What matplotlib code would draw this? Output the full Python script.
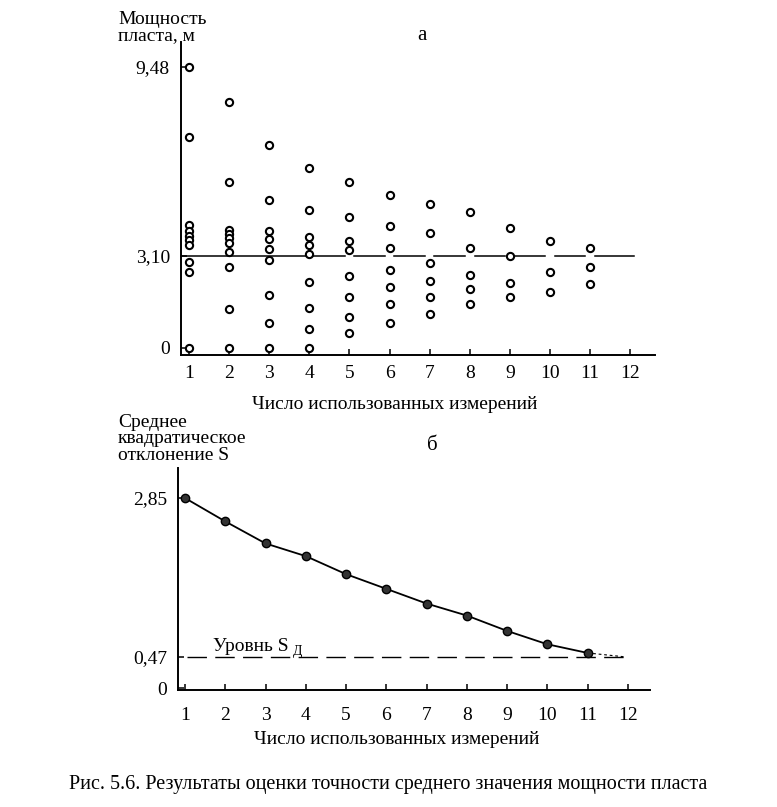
import matplotlib
matplotlib.use("Agg")
import matplotlib.pyplot as plt
import numpy as np

plt.rcParams["font.family"] = ["Liberation Serif", "DejaVu Serif"]

# а: thickness values at each number of used measurements
n_ticks = list(range(1, 13))
thickness = [
    [9.48, 7.10, 4.12, 3.95, 3.78, 3.63, 3.47, 2.88, 2.54, 0.0],
    [8.27, 5.58, 3.97, 3.82, 3.69, 3.52, 3.21, 2.73, 1.31, 0.0],
    [6.82, 4.99, 3.94, 3.67, 3.33, 2.95, 1.79, 0.84, 0.0],
    [6.05, 4.65, 3.72, 3.47, 3.15, 2.21, 1.32, 0.64, 0.0],
    [5.59, 4.39, 3.61, 3.30, 2.43, 1.71, 1.02, 0.49],
    [5.15, 4.11, 3.35, 2.63, 2.06, 1.47, 0.84],
    [4.84, 3.88, 2.86, 2.25, 1.70, 1.14],
    [4.57, 3.35, 2.45, 1.99, 1.46],
    [4.03, 3.08, 2.17, 1.71],
    [3.60, 2.55, 1.87],
    [3.36, 2.71, 2.14],
]
mean_thickness = 3.10
top_yticks = [0, 3.10, 9.48]
top_yticklabels = ["0", "3,10", "9,48"]

# б: standard deviation vs number of used measurements
n_used = list(range(1, 12))
s_values = [2.85, 2.50, 2.17, 1.98, 1.71, 1.49, 1.27, 1.09, 0.86, 0.66, 0.53]
s_level = 0.47
bot_yticks = [0, 0.47, 2.85]
bot_yticklabels = ["0", "0,47", "2,85"]

FS = 14

fig = plt.figure(figsize=(7.77, 8.07), dpi=100)

# ---- panel а ----
ax1 = fig.add_axes([181 / 777, 1 - 355 / 807, 474 / 777, 313 / 807])
for n, vals in enumerate(thickness, start=1):
    ax1.plot([n] * len(vals), vals, "o", ms=5.2, mfc="white", mec="black",
             mew=1.5, zorder=3)

# mean line drawn by hand with small breaks near the columns 5..11
gaps = [n for n in range(5, 12)]
x_start = 0.8
for g in gaps:
    ax1.plot([x_start, g - 0.12], [mean_thickness] * 2, color="black", lw=1.1,
             zorder=2)
    x_start = g + 0.12
ax1.plot([x_start, 12.1], [mean_thickness] * 2, color="black", lw=1.1, zorder=2)

ax1.set_xlim(0.8, 12.62)
ax1.set_ylim(-0.25, 10.31)
ax1.set_xticks(n_ticks)
ax1.set_yticks(top_yticks)
ax1.set_yticklabels(top_yticklabels)
ax1.tick_params(direction="in", length=4, width=1.1, labelsize=FS)
ax1.tick_params(axis="x", pad=7)
ax1.tick_params(axis="y", pad=8)
for s in ["top", "right"]:
    ax1.spines[s].set_visible(False)
for s in ["left", "bottom"]:
    ax1.spines[s].set_linewidth(1.4)

fig.text(118 / 777, 1 - 11 / 807, "Мощность\nпласта, м", ha="left", va="top",
         fontsize=FS, linespacing=0.95)
fig.text(422 / 777, 1 - 35 / 807, "а", ha="center", va="center", fontsize=FS + 1)
fig.text(395 / 777, 1 - 405 / 807, "Число использованных измерений",
         ha="center", va="center", fontsize=FS)

# ---- panel б ----
ax2 = fig.add_axes([178 / 777, 1 - 690 / 807, 472 / 777, 222 / 807])
ax2.plot(n_used, s_values, "-o", color="black", lw=1.3, ms=6, mfc="#333333",
         mec="black", zorder=3)
ax2.plot([n_used[-1], 11.95], [s_values[-1], s_level], color="black", lw=0.8,
         linestyle=(0, (2.5, 2.5)), zorder=2)
ax2.plot([1.05, 12], [s_level] * 2, color="black", lw=1.0,
         linestyle=(0, (14, 6)), zorder=2)
ax2.text(1.7, 0.56, "Уровнь S", fontsize=FS, va="baseline", ha="left")
ax2.text(3.68, 0.50, "Д", fontsize=FS - 4, va="baseline", ha="left")

ax2.set_xlim(0.826, 12.55)
ax2.set_ylim(-0.025, 3.30)
ax2.set_xticks(n_ticks)
ax2.set_yticks(bot_yticks)
ax2.set_yticklabels(bot_yticklabels)
ax2.tick_params(direction="in", length=4, width=1.1, labelsize=FS)
ax2.tick_params(axis="x", pad=12)
ax2.tick_params(axis="y", pad=8)
for s in ["top", "right"]:
    ax2.spines[s].set_visible(False)
for s in ["left", "bottom"]:
    ax2.spines[s].set_linewidth(1.4)

fig.text(118 / 777, 1 - 414 / 807, "Среднее\nквадратическое\nотклонение S",
         ha="left", va="top", fontsize=FS, linespacing=0.95)
fig.text(432 / 777, 1 - 445 / 807, "б", ha="center", va="center", fontsize=FS + 1)
fig.text(397 / 777, 1 - 740 / 807, "Число использованных измерений",
         ha="center", va="center", fontsize=FS)

fig.text(388 / 777, 1 - 785 / 807,
         "Рис. 5.6. Результаты оценки точности среднего значения мощности пласта",
         ha="center", va="center", fontsize=FS + 0.5)

fig.savefig("out.png", dpi=100)
